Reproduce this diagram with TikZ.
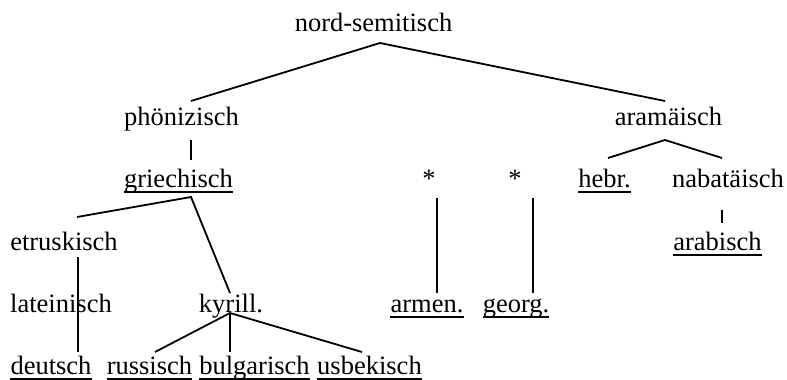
\documentclass[tikz,border=0pt]{standalone}
\usepackage{fontspec}
\setmainfont{Liberation Serif}
\usetikzlibrary{calc}
\tikzset{
  lbl/.style={anchor=base, inner sep=0pt, font=\fontsize{26.5}{30}\selectfont},
  edge/.style={line width=1.8pt},
  uline/.style={line width=1.8pt}
}
\begin{document}
\begin{tikzpicture}[x=1pt, y=-1pt]
\useasboundingbox (0,0) rectangle (787,380);
% nodes
\node[lbl] (nord) at (373.5,31) {nord-semitisch};
\node[lbl] (phoen) at (181.5,125) {phönizisch};
\node[lbl] (aram) at (668.5,125) {aramäisch};
\node[lbl] (griech) at (178.5,187) {griechisch};
\node[lbl] (star1) at (429,187) {*};
\node[lbl] (star2) at (515,187) {*};
\node[lbl] (hebr) at (604.5,187) {hebr.};
\node[lbl] (nabat) at (728,187) {nabatäisch};
\node[lbl] (etr) at (64,250) {etruskisch};
\node[lbl] (arab) at (717.5,250) {arabisch};
\node[lbl] (latein) at (61,312) {lateinisch};
\node[lbl] (kyrill) at (231,312) {kyrill.};
\node[lbl] (armen) at (427,312) {armen.};
\node[lbl] (georg) at (516,312) {georg.};
\node[lbl] (deutsch) at (51,374) {deutsch};
\node[lbl] (russ) at (149.5,374) {russisch};
\node[lbl] (bulg) at (254.5,374) {bulgarisch};
\node[lbl] (usb) at (369.5,374) {usbekisch};
% underlines
\foreach \n in {griech,hebr,arab,armen,georg,deutsch,russ,bulg,usb}{
  \draw[uline] ($(\n.base west)+(0,5)$) -- ($(\n.base east)+(0,5)$);
}
% connectors
\draw[edge] ($(phoen.base)+(9.5,-24)$) -- ($(nord.base)+(6.5,12)$) -- ($(aram.base)+(-3.5,-24)$);
\draw[edge] ($(phoen.base)+(9.5,15)$) -- ($(griech.base)+(12.5,-27)$);
\draw[edge] ($(etr.base)+(13,-33)$) -- ($(griech.base)+(12.5,10)$) -- ($(kyrill.base)+(-1,-19)$);
\draw[edge] ($(etr.base)+(14,7)$) -- ($(deutsch.base)+(27,-22)$);
\draw[edge] ($(russ.base)+(5.5,-22)$) -- ($(kyrill.base)+(-1,1)$) -- ($(usb.base)+(-7.5,-22)$);
\draw[edge] ($(kyrill.base)+(-1,1)$) -- ($(bulg.base)+(-24.5,-22)$);
\draw[edge] ($(star1.base)+(8,11)$) -- ($(armen.base)+(10,-19)$);
\draw[edge] ($(star2.base)+(18,11)$) -- ($(georg.base)+(17,-19)$);
\draw[edge] ($(hebr.base)+(3.5,-29)$) -- ($(aram.base)+(-3.5,15)$) -- ($(nabat.base)+(-6,-29)$);
\draw[edge] ($(nabat.base)+(-6,23)$) -- ($(arab.base)+(4.5,-27)$);
\end{tikzpicture}
\end{document}
